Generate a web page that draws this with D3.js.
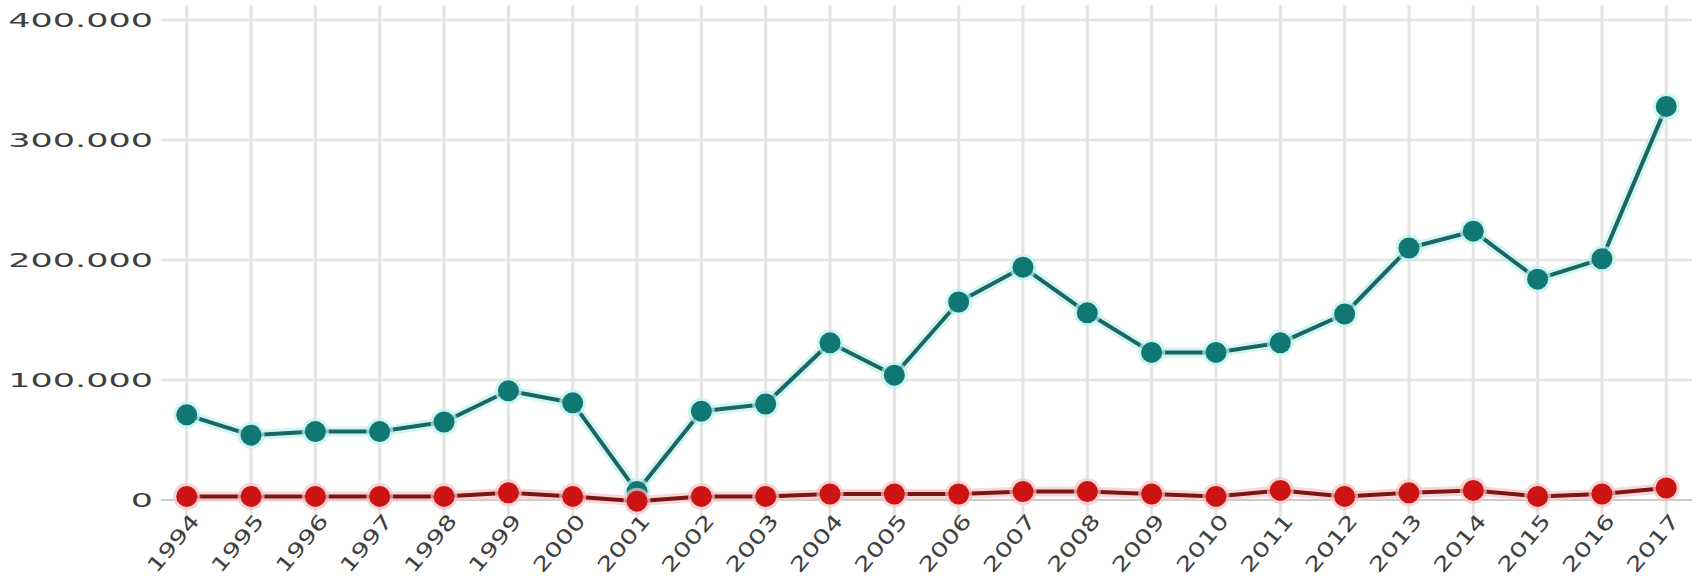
<!DOCTYPE html>
<html>
<head>
<meta charset="utf-8">
<script src="https://cdn.jsdelivr.net/npm/d3@7"></script>
<style>
  html, body { margin: 0; padding: 0; background: #fff; }
  svg { display: block; font-family: "DejaVu Sans", Verdana, sans-serif; }
</style>
</head>
<body>
<div id="chart"></div>
<script>
// years on the x axis
const years = ['1994','1995','1996','1997','1998','1999','2000','2001','2002','2003','2004','2005',
               '2006','2007','2008','2009','2010','2011','2012','2013','2014','2015','2016','2017'];
// upper (teal) series
const tealValues = [71000, 54000, 57000, 57000, 65000, 91000, 81000, 7000, 74000, 80000, 131000, 104000,
                    165000, 194000, 156000, 123000, 123000, 131000, 155000, 210000, 224000, 184000, 201000, 328000];
// lower (red) series
const redValues = [3000, 3000, 3000, 3000, 3000, 6000, 3000, -1000, 3000, 3000, 5000, 5000,
                   5000, 7000, 7000, 5000, 3000, 8000, 3000, 6000, 8000, 3000, 5000, 10000];
const yTicks = [0, 100000, 200000, 300000, 400000];

(function() {
    const width = 1707, height = 576;

    const svg = d3.select('#chart').append('svg')
        .attr('width', width)
        .attr('height', height);

    const x = d3.scalePoint().domain(years).range([161, 1692]).padding(0.4);
    const y = d3.scaleLinear().domain([0, 400000]).range([500, 20]);

    const fmt = d => d3.format(',')(d).replace(/,/g, '.');

    // grid
    const grid = svg.append('g');
    grid.selectAll('.vg').data(years).enter().append('line')
        .attr('x1', d => x(d)).attr('x2', d => x(d))
        .attr('y1', 5).attr('y2', 520)
        .attr('stroke', '#e4e4e4').attr('stroke-width', 3);
    grid.selectAll('.hg').data(yTicks.filter(d => d > 0)).enter().append('line')
        .attr('x1', 161).attr('x2', 1692)
        .attr('y1', d => y(d)).attr('y2', d => y(d))
        .attr('stroke', '#e4e4e4').attr('stroke-width', 2.5);
    grid.append('line')
        .attr('x1', 161).attr('x2', 1692)
        .attr('y1', y(0)).attr('y2', y(0))
        .attr('stroke', '#9a9a9a').attr('stroke-width', 1);

    // y axis labels
    const yAxis = svg.append('g')
        .attr('transform', 'translate(153,0)')
        .call(d3.axisLeft(y).tickValues(yTicks).tickFormat(fmt).tickSize(0).tickPadding(0));
    yAxis.select('.domain').remove();
    yAxis.selectAll('text')
        .attr('fill', '#404040')
        .attr('font-size', '20px')
        .attr('font-family', '"DejaVu Sans", Verdana, sans-serif');

    // x axis labels
    const xAxis = svg.append('g')
        .attr('transform', 'translate(0,514)')
        .call(d3.axisBottom(x).tickSize(0).tickPadding(0));
    xAxis.select('.domain').remove();
    xAxis.selectAll('text')
        .attr('fill', '#404040')
        .attr('font-size', '20px')
        .attr('font-family', '"DejaVu Sans", Verdana, sans-serif')
        .attr('text-anchor', 'end')
        .attr('dy', '0.75em')
        .attr('dx', '0.15em')
        .attr('transform', 'rotate(-50)');

    // widen the tick labels, the picture's text is wide and squat
    yAxis.selectAll('.tick text').each(function() {
        const len = this.getComputedTextLength();
        d3.select(this).attr('textLength', len * 1.75).attr('lengthAdjust', 'spacingAndGlyphs');
    });
    xAxis.selectAll('.tick text').each(function() {
        const len = this.getComputedTextLength();
        d3.select(this).attr('textLength', len * 1.35).attr('lengthAdjust', 'spacingAndGlyphs');
    });

    const series = [
        { values: tealValues, dot: '#117773', line: '#1b6663', glow: '#bdf1ee' },
        { values: redValues, dot: '#cc1414', line: '#7a1616', glow: '#f7c4c4' }
    ];

    const line = d3.line().x((d, i) => x(years[i])).y(d => y(d));

    series.forEach(function(s) {
        const g = svg.append('g');
        g.append('path').datum(s.values)
            .attr('d', line)
            .attr('fill', 'none')
            .attr('stroke', s.glow)
            .attr('stroke-width', 10)
            .attr('stroke-linejoin', 'round')
            .attr('opacity', 0.7);
        g.append('path').datum(s.values)
            .attr('d', line)
            .attr('fill', 'none')
            .attr('stroke', s.line)
            .attr('stroke-width', 4)
            .attr('stroke-linejoin', 'round');
        g.selectAll('.halo').data(s.values).enter().append('circle')
            .attr('cx', (d, i) => x(years[i]))
            .attr('cy', d => y(d))
            .attr('r', 13.5)
            .attr('fill', s.glow)
            .attr('opacity', 0.7);
        g.selectAll('.dot').data(s.values).enter().append('circle')
            .attr('cx', (d, i) => x(years[i]))
            .attr('cy', d => y(d))
            .attr('r', 10.5)
            .attr('fill', s.dot);
    });
})();
</script>
</body>
</html>
